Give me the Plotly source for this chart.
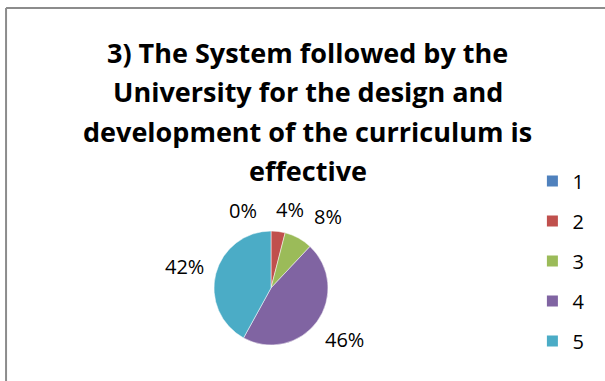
import math
import plotly.graph_objects as go

# Survey question 3, share of responses per rating
ratings = ["1", "2", "3", "4", "5"]
shares = [0, 4, 8, 46, 42]
colors = ["#4F81BD", "#C0504D", "#9BBB59", "#8064A2", "#4BACC6"]

title_lines = [
    "3) The System followed by the",
    "University for the design and",
    "development of the curriculum is",
    "effective",
]

FONT = "Open Sans, sans-serif"
W, H = 605, 381

# pie placement in pixels (center and radius)
CX, CY, R = 271, 288, 57
# sideways nudges so the small labels near the top don't collide (Excel style)
label_nudge = [-28, 9, 18, 3, -3]

fig = go.Figure()

fig.add_trace(go.Pie(
    labels=ratings,
    values=shares,
    marker=dict(colors=colors, line=dict(color="white", width=0.5)),
    sort=False,
    direction="clockwise",
    rotation=0,
    textinfo="none",
    domain=dict(x=[(CX - R) / W, (CX + R) / W], y=[1 - (CY + R) / H, 1 - (CY - R) / H]),
    showlegend=False,
    hovertemplate="%{label}: %{value}%<extra></extra>",
))

# legend entries as separate groups so their spacing can be widened
for name, col in zip(ratings, colors):
    fig.add_trace(go.Scatter(
        x=[None], y=[None], mode="markers", name=name, legendgroup=name,
        marker=dict(symbol="square", size=11, color=col),
    ))

annotations = []
for i, line in enumerate(title_lines):
    annotations.append(dict(
        text="<b>" + line + "</b>", x=0.509, y=1 - (52 + 39.5 * i) / H,
        xref="paper", yref="paper", xanchor="center", yanchor="middle",
        showarrow=False, font=dict(family=FONT, size=27, color="#000000"),
    ))

# percentage labels just outside each slice
total = sum(shares)
cum = 0
for v, nudge in zip(shares, label_nudge):
    mid = (cum + v / 2) / total * 2 * math.pi
    cum += v
    sx, sy = math.sin(mid), -math.cos(mid)
    txt = f"{v}%"
    hw, hh = 6.2 * len(txt), 12.5
    d = R + 8 + hw * abs(sx) + hh * abs(sy)
    px_ = CX + d * sx + nudge
    py_ = CY + d * sy
    annotations.append(dict(
        text=txt, x=px_ / W, y=1 - py_ / H, xref="paper", yref="paper",
        xanchor="center", yanchor="middle", showarrow=False,
        font=dict(family=FONT, size=20, color="#000000"),
    ))

fig.update_layout(
    width=W, height=H,
    margin=dict(l=0, r=0, t=0, b=0),
    paper_bgcolor="white",
    plot_bgcolor="white",
    xaxis=dict(visible=False),
    yaxis=dict(visible=False),
    annotations=annotations,
    legend=dict(
        x=0.880, y=0.576, xanchor="left", yanchor="top",
        font=dict(family=FONT, size=20, color="#000000"),
        tracegroupgap=11, itemwidth=30,
    ),
    shapes=[
        dict(type="line", xref="paper", yref="paper", x0=0.01, x1=1.0, y0=0.979, y1=0.979,
             line=dict(color="#8c8c8c", width=2)),
        dict(type="line", xref="paper", yref="paper", x0=0.01, x1=0.01, y0=0.0, y1=0.979,
             line=dict(color="#8c8c8c", width=2)),
    ],
)

# drop the page's default body margin so the figure fills the window
fig.write_html("out.html", config={"displayModeBar": False},
               post_script="document.body.style.margin='0px';")
